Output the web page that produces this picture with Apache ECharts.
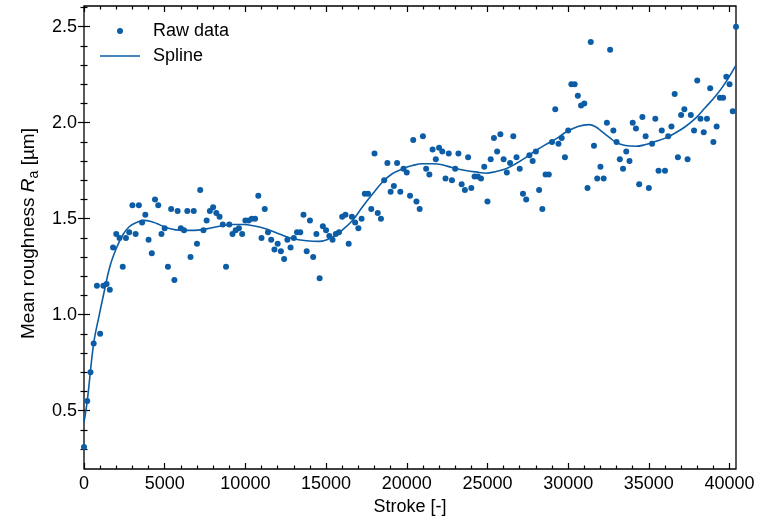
<!DOCTYPE html>
<html><head><meta charset="utf-8">
<script src="https://cdn.jsdelivr.net/npm/echarts@6/dist/echarts.min.js"></script>
<style>html,body{margin:0;padding:0;background:#fff}#c{width:777px;height:521px}</style>
</head><body><div id="c"></div>
<script>
const strokes = [0,200,400,600,800,1000,1200,1400,1600,1800,2000,2200,2400,2600,2800,3000,3200,3400,3600,3800,
4000,4200,4400,4600,4800,5000,5200,5400,5600,5800,6000,6200,6400,6600,6800,7000,7200,7400,7600,7800,
8000,8200,8400,8600,8800,9000,9200,9400,9600,9800,10000,10200,10400,10600,10800,11000,11200,11400,11600,11800,
12000,12200,12400,12600,12800,13000,13200,13400,13600,13800,14000,14200,14400,14600,14800,15000,15200,15400,15600,15800,
16000,16200,16400,16600,16800,17000,17200,17400,17600,17800,18000,18200,18400,18600,18800,19000,19200,19400,19600,19800,
20000,20200,20400,20600,20800,21000,21200,21400,21600,21800,22000,22200,22400,22600,22800,23000,23200,23400,23600,23800,
24000,24200,24400,24600,24800,25000,25200,25400,25600,25800,26000,26200,26400,26600,26800,27000,27200,27400,27600,27800,
28000,28200,28400,28600,28800,29000,29200,29400,29600,29800,30000,30200,30400,30600,30800,31000,31200,31400,31600,31800,
32000,32200,32400,32600,32800,33000,33200,33400,33600,33800,34000,34200,34400,34600,34800,35000,35200,35400,35600,35800,
36000,36200,36400,36600,36800,37000,37200,37400,37600,37800,38000,38200,38400,38600,38800,39000,39200,39400,39600,39800,
40000,40200,40400];
const rawRa = [0.31,0.55,0.70,0.85,1.15,0.90,1.15,1.16,1.13,1.35,1.42,1.40,1.25,1.40,1.43,1.57,1.42,1.57,1.48,1.52,
1.39,1.32,1.60,1.57,1.42,1.45,1.25,1.55,1.18,1.54,1.45,1.44,1.54,1.30,1.54,1.37,1.65,1.44,1.49,1.54,
1.56,1.53,1.51,1.47,1.25,1.47,1.42,1.44,1.45,1.42,1.49,1.49,1.50,1.50,1.62,1.40,1.55,1.43,1.39,1.34,
1.37,1.33,1.29,1.39,1.35,1.40,1.43,1.43,1.52,1.33,1.49,1.30,1.42,1.19,1.46,1.44,1.41,1.39,1.42,1.43,
1.51,1.52,1.37,1.51,1.48,1.45,1.50,1.63,1.63,1.55,1.84,1.53,1.50,1.70,1.79,1.64,1.67,1.79,1.64,1.76,
1.74,1.62,1.91,1.59,1.55,1.93,1.76,1.73,1.86,1.81,1.87,1.85,1.71,1.84,1.70,1.76,1.84,1.68,1.65,1.82,
1.66,1.72,1.72,1.71,1.77,1.59,1.81,1.92,1.85,1.94,1.81,1.74,1.79,1.93,1.82,1.76,1.63,1.60,1.83,1.80,
1.85,1.65,1.55,1.73,1.73,1.90,2.07,1.89,1.92,1.82,1.96,2.20,2.20,2.14,2.09,2.10,1.66,2.42,1.88,1.71,
1.77,1.71,2.00,2.38,1.96,1.90,1.81,1.76,1.85,1.80,2.00,1.97,1.68,2.03,1.93,1.66,1.89,2.02,1.75,1.96,
1.75,1.93,1.98,2.15,1.82,2.04,2.07,1.81,2.04,1.96,2.22,2.02,1.95,2.02,2.18,1.90,1.98,2.13,2.13,2.24,
2.20,2.06,2.50];
const splineStroke = [0,200,600,950,1200,1600,2000,2400,2800,3300,3700,4100,4500,4900,5300,5900,6800,7600,8400,9200,
9900,10500,11300,12100,12900,13800,14600,15400,16000,16650,17250,17900,18500,19100,19750,20350,21000,21600,22200,22850,
23650,24500,24900,25500,26150,26750,27400,28000,28600,29250,29850,30650,31300,31700,32100,32550,32950,33550,34200,34800,
35400,36050,36650,37250,37900,38500,39150,39750,40400];
const splineRa = [0.44,0.55,0.85,1.00,1.10,1.25,1.345,1.415,1.458,1.482,1.491,1.487,1.475,1.46,1.449,1.44,1.439,1.447,1.461,1.47,
1.47,1.463,1.446,1.42,1.397,1.385,1.382,1.404,1.44,1.492,1.561,1.631,1.691,1.734,1.76,1.777,1.786,1.786,1.781,1.765,
1.751,1.741,1.737,1.745,1.76,1.786,1.82,1.855,1.886,1.916,1.95,1.981,1.99,1.979,1.953,1.924,1.898,1.881,1.877,1.886,
1.902,1.921,1.947,1.979,2.024,2.079,2.14,2.209,2.30];
const xMajorTicks = [0,5000,10000,15000,20000,25000,30000,35000,40000];
const xMinorTicks = [1000,2000,3000,4000,6000,7000,8000,9000,11000,12000,13000,14000,16000,17000,18000,19000,
21000,22000,23000,24000,26000,27000,28000,29000,31000,32000,33000,34000,36000,37000,38000,39000];
const yMajorTicks = [0.5,1.0,1.5,2.0,2.5];
const yMinorTicks = [0.3,0.4,0.6,0.7,0.8,0.9,1.1,1.2,1.3,1.4,1.6,1.7,1.8,1.9,2.1,2.2,2.3,2.4,2.6];

const FONT = '"Liberation Sans", Arial, Helvetica, sans-serif';
const BLUE = '#0C5DA5';
const X_MIN = 0, X_MAX = 40400, Y_MIN = 0.196, Y_MAX = 2.608;

function axisBase(range, pos, ticks, len) {
  return {
    type: 'value', position: pos, min: range[0], max: range[1],
    axisLine: {show: false}, splitLine: {show: false},
    axisTick: {show: true, inside: true, length: len, customValues: ticks,
      lineStyle: {color: '#000', width: 1.2}},
    axisLabel: {show: false}
  };
}
const xMain = axisBase([X_MIN, X_MAX], 'bottom', xMajorTicks, 6);
xMain.axisLabel = {show: true, customValues: xMajorTicks, color: '#000', fontSize: 18,
  fontFamily: FONT, margin: 6, formatter: v => String(v)};
xMain.name = 'Stroke [-]';
xMain.nameLocation = 'middle';
xMain.nameGap = 28;
xMain.nameTextStyle = {color: '#000', fontSize: 18, fontFamily: FONT};

const yMain = axisBase([Y_MIN, Y_MAX], 'left', yMajorTicks, 6);
yMain.axisLabel = {show: true, customValues: yMajorTicks, color: '#000', fontSize: 18,
  fontFamily: FONT, margin: 7, formatter: v => v.toFixed(1)};
yMain.name = '{n|Mean roughness }{i|R}{s|a}{n| [µm]}';
yMain.nameLocation = 'middle';
yMain.nameGap = 42;
yMain.nameTextStyle = {color: '#000', fontSize: 19, fontFamily: FONT, padding: [0, 0, 0, 8],
  rich: {
    n: {fontSize: 19, fontFamily: FONT, color: '#000', lineHeight: 24},
    i: {fontSize: 19, fontFamily: FONT, color: '#000', fontStyle: 'italic', lineHeight: 24},
    s: {fontSize: 14, fontFamily: FONT, color: '#000', verticalAlign: 'bottom', lineHeight: 14}
  }};

const option = {
  animation: false,
  backgroundColor: '#fff',
  grid: {left: 84, right: 41, top: 6, bottom: 52, show: true, borderColor: '#000', borderWidth: 1.3,
    backgroundColor: 'transparent'},
  legend: {
    orient: 'vertical', left: 100, top: 20, padding: 0, itemGap: 3,
    itemWidth: 40, itemHeight: 6, selectedMode: false,
    data: [{name: 'Raw data', icon: 'circle'}, {name: 'Spline', icon: 'path://M0 0H40V1.6H0Z'}],
    textStyle: {fontSize: 18, fontFamily: FONT, color: '#000', lineHeight: 22, padding: [0, 0, 0, 8]}
  },
  xAxis: [
    xMain,
    axisBase([X_MIN, X_MAX], 'bottom', xMinorTicks, 3.5),
    axisBase([X_MIN, X_MAX], 'top', xMajorTicks, 6),
    axisBase([X_MIN, X_MAX], 'top', xMinorTicks, 3.5)
  ],
  yAxis: [
    yMain,
    axisBase([Y_MIN, Y_MAX], 'left', yMinorTicks, 3.5),
    axisBase([Y_MIN, Y_MAX], 'right', yMajorTicks, 6),
    axisBase([Y_MIN, Y_MAX], 'right', yMinorTicks, 3.5)
  ],
  series: [
    {type: 'scatter', name: 'Raw data', xAxisIndex: 0, yAxisIndex: 0,
      data: strokes.map((s, i) => [s, rawRa[i]]),
      symbolSize: 6, itemStyle: {color: BLUE, opacity: 1}, z: 3},
    {type: 'line', name: 'Spline', xAxisIndex: 0, yAxisIndex: 0,
      data: splineStroke.map((s, i) => [s, splineRa[i]]),
      smooth: 0.4, symbol: 'none', showSymbol: false,
      lineStyle: {color: BLUE, width: 1.6}, itemStyle: {color: BLUE}, z: 4}
  ]
};
const chart = echarts.init(document.getElementById('c'), null, {renderer: 'canvas'});
chart.setOption(option);
</script>
</body></html>
